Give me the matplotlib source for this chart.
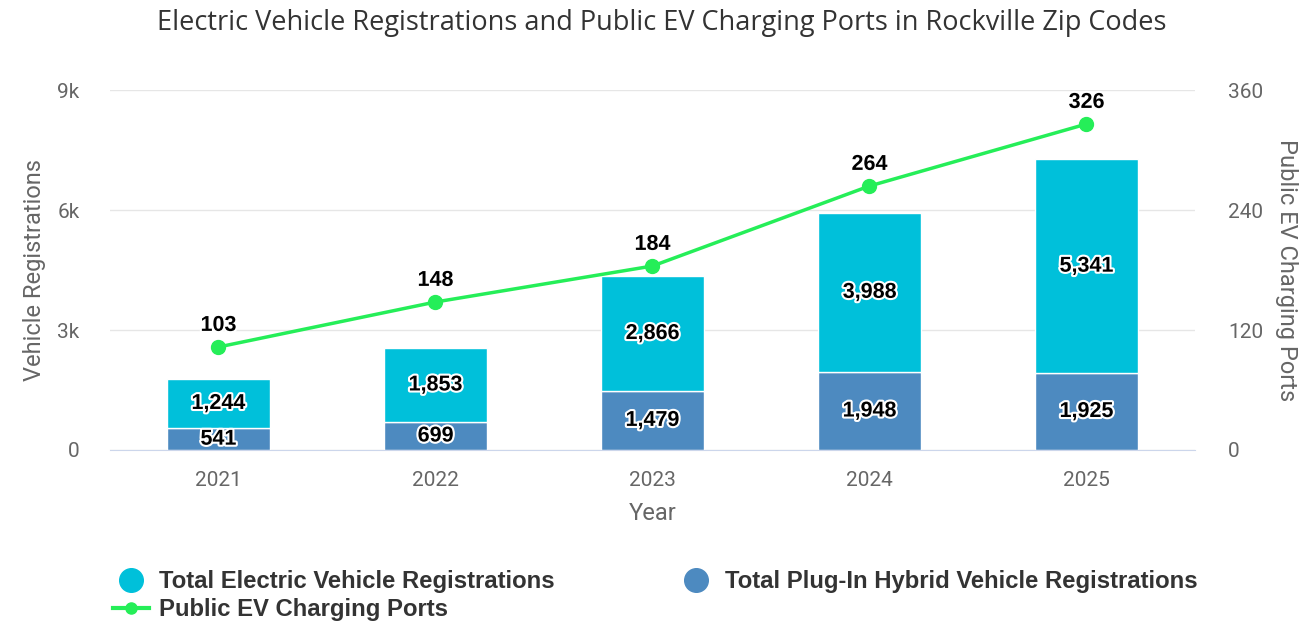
import matplotlib.pyplot as plt
import matplotlib.patheffects as pe
from matplotlib.lines import Line2D

years = ['2021', '2022', '2023', '2024', '2025']
ev_regs = [1244, 1853, 2866, 3988, 5341]
phev_regs = [541, 699, 1479, 1948, 1925]
charging_ports = [103, 148, 184, 264, 326]

ev_color = '#00c0da'
phev_color = '#4d8ac0'
line_color = '#25ee58'

plt.rcParams['font.family'] = ['Liberation Sans', 'DejaVu Sans']

fig = plt.figure(figsize=(13.06, 6.23), dpi=100)
ax = fig.add_axes([0.0842, 0.2777, 0.8308, 0.5778])
ax2 = ax.twinx()

x = list(range(len(years)))
width = 0.475
ax.bar(x, phev_regs, width, color=phev_color, edgecolor='white', linewidth=1, zorder=2)
ax.bar(x, ev_regs, width, bottom=phev_regs, color=ev_color, edgecolor='white', linewidth=1, zorder=2)

outline = [pe.withStroke(linewidth=3, foreground='white')]
for i in x:
    ax.text(i, phev_regs[i] / 2, f'{phev_regs[i]:,}', ha='center', va='center',
            fontsize=15.5, fontweight='bold', color='black', path_effects=outline, zorder=5)
    ax.text(i, phev_regs[i] + ev_regs[i] / 2, f'{ev_regs[i]:,}', ha='center', va='center',
            fontsize=15.5, fontweight='bold', color='black', path_effects=outline, zorder=5)

ax2.plot(x, charging_ports, color=line_color, linewidth=2.5, marker='o', markersize=10, zorder=4)
for i in x:
    ax2.annotate(str(charging_ports[i]), (i, charging_ports[i]), xytext=(0, 8),
                 textcoords='offset points', ha='center', va='bottom', fontsize=15.5,
                 fontweight='bold', color='black', path_effects=outline)

ax.set_xlim(-0.5, len(years) - 0.5)
ax.set_ylim(0, 9000)
ax2.set_ylim(0, 360)
ax.set_yticks([0, 3000, 6000, 9000])
ax.set_yticklabels(['0', '3k', '6k', '9k'])
ax2.set_yticks([0, 120, 240, 360])
ax.set_xticks(x)
ax.set_xticklabels(years)

ax.grid(axis='y', color='#e6e6e6', linewidth=1, zorder=0)
ax.set_axisbelow(True)
for a in (ax, ax2):
    for s in ['top', 'left', 'right', 'bottom']:
        a.spines[s].set_visible(False)
ax.spines['bottom'].set_visible(True)
ax.spines['bottom'].set_color('#ccd6eb')

ax.tick_params(axis='y', length=0, labelsize=15, labelcolor='#666666', pad=22)
ax2.tick_params(axis='y', length=0, labelsize=15, labelcolor='#666666', pad=24)
ax.tick_params(axis='x', length=0, labelsize=15, labelcolor='#666666', pad=15)
for lbl in ax.get_yticklabels() + ax2.get_yticklabels() + ax.get_xticklabels():
    lbl.set_family(['Roboto', 'DejaVu Sans'])

ax.set_xlabel('Year', fontsize=17, color='#666666', labelpad=9, family=['Roboto', 'DejaVu Sans'])
ax.set_ylabel('Vehicle Registrations', fontsize=17, color='#666666', labelpad=8,
              family=['Roboto', 'DejaVu Sans'])
ax2.set_ylabel('Public EV Charging Ports', fontsize=17, color='#666666', labelpad=8,
               rotation=270, va='bottom', family=['Roboto', 'DejaVu Sans'])

fig.text(0.5065, 0.963, 'Electric Vehicle Registrations and Public EV Charging Ports in Rockville Zip Codes',
         ha='center', va='center', fontsize=19.5, color='#333333', family=['Open Sans', 'DejaVu Sans'])

handles = [
    Line2D([], [], linestyle='none', marker='o', markersize=17, color=ev_color),
    Line2D([], [], color=line_color, linewidth=3, marker='o', markersize=8),
    Line2D([], [], linestyle='none', marker='o', markersize=17, color=phev_color),
]
labels = ['Total Electric Vehicle Registrations', 'Public EV Charging Ports',
          'Total Plug-In Hybrid Vehicle Registrations']
leg = fig.legend(handles, labels, ncol=2, loc='upper left', bbox_to_anchor=(0.079, 0.1),
                 frameon=False, prop={'weight': 'bold', 'size': 17.2}, handlelength=1.5,
                 handletextpad=0.45, columnspacing=5.15, labelspacing=0.2, borderaxespad=0)
for t in leg.get_texts():
    t.set_color('#333333')

fig.savefig('out.png', dpi=100)
